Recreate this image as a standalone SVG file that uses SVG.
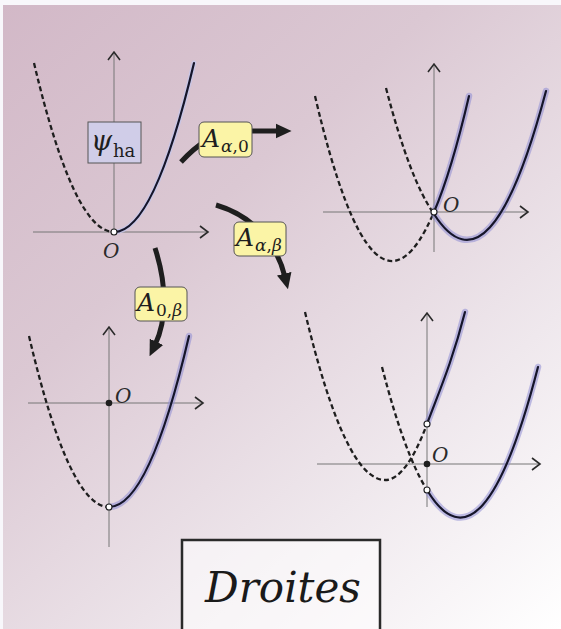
<svg xmlns="http://www.w3.org/2000/svg" width="561" height="629" viewBox="0 0 561 629">
<defs>
<linearGradient id="bg" x1="0" y1="0" x2="561" y2="629" gradientUnits="userSpaceOnUse">
<stop offset="0" stop-color="#d2b8c7"/>
<stop offset="0.35" stop-color="#dbc8d3"/>
<stop offset="0.72" stop-color="#efe8ed"/>
<stop offset="1" stop-color="#ffffff"/>
</linearGradient>
<marker id="ah" markerUnits="userSpaceOnUse" markerWidth="16" markerHeight="16" viewBox="0 0 14 14" refX="3" refY="7" orient="auto">
<path d="M0,0.5 L14,7 L0,13.5 z" fill="#1e1e1e"/>
</marker>
<style>
.ax{fill:none;stroke:#777;stroke-width:1}
.chev{fill:none;stroke:#2a2a2a;stroke-width:1.6}
.dash{fill:none;stroke:#1e1e1e;stroke-width:2.3;stroke-dasharray:5,3}
.glow{fill:none;stroke:#8e8cd4;stroke-width:6.5;stroke-opacity:0.55;stroke-linecap:round}
.glow1{fill:none;stroke:#c4c6ea;stroke-width:5;stroke-opacity:0.8;stroke-linecap:round}
.sol{fill:none;stroke:#15152a;stroke-width:2.2;stroke-linecap:round}
.open{fill:#fff;stroke:#1e1e1e;stroke-width:1.1}
.full{fill:#1e1e1e}
.lbl{font-family:"DejaVu Serif","Liberation Serif",serif;font-style:italic;fill:#2a2a2a}
.conn{fill:none;stroke:#1e1e1e;stroke-width:5}
.tag{fill:#fbf4a6;stroke:#555;stroke-width:1}
.m{font-family:"DejaVu Serif","Liberation Serif",serif;fill:#1e1e1e}
</style>
</defs>
<rect x="0" y="0" width="561" height="629" fill="#f8f7fb"/>
<rect x="3" y="5" width="558" height="624" fill="url(#bg)"/>

<g id="panel1">
<path class="ax" d="M33,232 H208 M114,52 V232"/>
<path class="chev" d="M200,226 L208,232 L200,238 M108,60 L114,52 L120,60"/>
<path class="dash" d="M34,63 Q74,232 114,232"/>
<path class="glow1" d="M114,232 Q154,232 194,63"/>
<path class="sol" d="M114,232 Q154,232 194,63"/>
<circle class="open" cx="114" cy="232" r="3"/>
<text class="lbl" x="103" y="258" font-size="20">O</text>
</g>

<g id="psi">
<rect x="88" y="122" width="53" height="41" fill="#d0cde8" stroke="#555" stroke-width="1"/>
<text class="m" x="91" y="150" font-size="27" font-style="italic">ψ</text>
<text class="m" x="113" y="157" font-size="18">ha</text>
</g>

<g id="panel2">
<path class="ax" d="M323,212 H528 M434,64 V252"/>
<path class="chev" d="M520,206 L528,212 L520,218 M428,72 L434,64 L440,72"/>
<path class="dash" d="M315,96 Q374.5,351 434,212"/>
<path class="dash" d="M386,88 Q410,180.3 434,214"/>
<path class="glow" d="M434,212 Q451.5,171.1 469,96"/>
<path class="glow" d="M434,214 Q490,301.9 546,91"/>
<path class="sol" d="M434,212 Q451.5,171.1 469,96"/>
<path class="sol" d="M434,214 Q490,301.9 546,91"/>
<circle class="open" cx="434" cy="212" r="3"/>
<text class="lbl" x="443" y="212" font-size="20">O</text>
</g>

<g id="panel3">
<path class="ax" d="M28,403 H203 M109,327 V547"/>
<path class="chev" d="M195,397 L203,403 L195,409 M103,335 L109,327 L115,335"/>
<path class="dash" d="M29,336 Q69,507 109,507"/>
<path class="glow" d="M109,507 Q149,507 189,336"/>
<path class="sol" d="M109,507 Q149,507 189,336"/>
<circle class="full" cx="109" cy="403" r="3.3"/>
<circle class="open" cx="109" cy="507" r="3"/>
<text class="lbl" x="115" y="403" font-size="20">O</text>
</g>

<g id="panel4">
<path class="ax" d="M317,464 H540 M427,313 V507"/>
<path class="chev" d="M532,458 L540,464 L532,470 M421,321 L427,313 L433,321"/>
<path class="dash" d="M305,312 Q345,480 385,480 Q406,480 427,424"/>
<path class="dash" d="M382,367 Q404.5,454.2 427,490"/>
<path class="glow" d="M427,424 C439.7,390.1 452.3,361.5 465,312"/>
<path class="glow" d="M427,490 Q482.5,581.9 538,367"/>
<path class="sol" d="M427,424 C439.7,390.1 452.3,361.5 465,312"/>
<path class="sol" d="M427,490 Q482.5,581.9 538,367"/>
<circle class="full" cx="427" cy="464" r="3.3"/>
<circle class="open" cx="427" cy="424" r="3"/>
<circle class="open" cx="427" cy="490" r="3"/>
<text class="lbl" x="432" y="462" font-size="20">O</text>
</g>

<g id="connectors">
<path class="conn" d="M181,162 C195,147 212,132 240,131 L279,131" marker-end="url(#ah)"/>
<path class="conn" d="M216,205 C250,215 276,240 285,277" marker-end="url(#ah)"/>
<path class="conn" d="M155,248 C167,285 167,320 155,345" marker-end="url(#ah)"/>
</g>

<g id="tag1">
<rect class="tag" x="199" y="122" width="53" height="35" rx="5"/>
<text class="m" x="202" y="147" font-size="25" font-style="italic">A</text>
<text class="m" x="221" y="152" font-size="17"><tspan font-style="italic">α</tspan>,0</text>
</g>
<g id="tag2">
<rect class="tag" x="234" y="222" width="52" height="34" rx="5"/>
<text class="m" x="236" y="246" font-size="25" font-style="italic">A</text>
<text class="m" x="255" y="251" font-size="17"><tspan font-style="italic">α</tspan>,<tspan font-style="italic">β</tspan></text>
</g>
<g id="tag3">
<rect class="tag" x="135" y="287" width="52" height="34" rx="5"/>
<text class="m" x="137" y="311" font-size="25" font-style="italic">A</text>
<text class="m" x="156" y="316" font-size="17">0,<tspan font-style="italic">β</tspan></text>
</g>

<g id="title">
<rect x="182" y="540" width="198" height="95" fill="#ffffff" fill-opacity="0.55" stroke="#2a2a2a" stroke-width="2.5"/>
<text x="283" y="602" font-family="DejaVu Serif, Liberation Serif, serif" font-style="italic" font-size="42" text-anchor="middle" fill="#1a1a1a">Droites</text>
</g>
</svg>
